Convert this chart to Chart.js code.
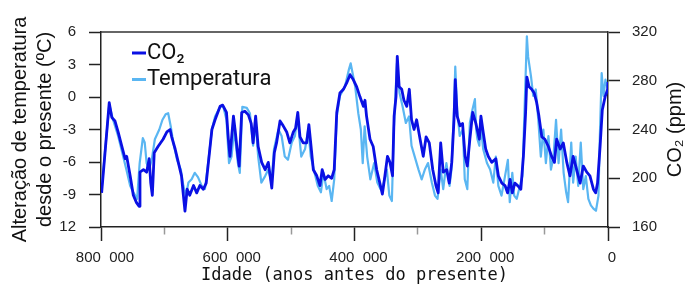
<!DOCTYPE html>
<html>
<head>
<meta charset="utf-8">
<script src="https://cdn.jsdelivr.net/npm/chart.js@4.4.1/dist/chart.umd.min.js"></script>
<style>
  html, body { margin: 0; padding: 0; background: #fff; }
  #wrap { width: 691px; height: 291px; }
</style>
</head>
<body>
<div id="wrap"><canvas id="iceChart" width="691" height="291"></canvas></div>
<script>
// CO2 record: age in thousand years before present, concentration in ppm
const co2Age = [799, 787, 783, 778, 773, 767, 762, 759.5, 754, 749, 744, 740, 738.5, 733, 728, 724, 721.5, 719, 716, 710,
  702, 696, 691, 688.5, 683, 678, 673, 670, 667.5, 664, 660, 654, 649, 644, 638.5, 634, 630.5, 625, 620, 612,
  608, 602, 599, 596.5, 591, 588.5, 584, 582, 578, 573, 567.5, 563, 560, 556, 552, 546.5, 541, 536, 530.5, 526.5,
  523, 517.5, 512.5, 507, 502, 496.5, 493, 489.5, 486, 481, 475.5, 472, 468.5, 465, 459.5, 454.5, 451, 446.5, 441.5, 436,
  432, 428, 423, 417.5, 412.5, 407, 402, 396.5, 391.5, 386, 383.5, 381, 375.5, 370.5, 365, 360, 356, 352, 348, 344,
  340, 337.5, 334.5, 332.5, 329.5, 325.5, 322, 317.5, 313.5, 310, 306, 302, 296.5, 291.5, 287, 282, 276.5, 271.5, 268, 264,
  260, 254.5, 250.5, 246.5, 243, 241, 238, 233.5, 229.5, 225.5, 222, 218, 213.5, 208.5, 203, 200.5, 197, 193, 189, 183.5,
  177, 173, 167.5, 162.5, 158.5, 154.5, 151, 147, 142.5, 137.5, 133.5, 130, 128, 124.5, 120.5, 116.5, 112.5, 109, 104.5, 99.5,
  94, 89, 84.5, 81, 75.5, 70.5, 65, 60, 55, 49.5, 44, 39, 33.5, 28.5, 23, 19.5, 16.5, 12.5, 9, 4.5, 0.5, 0];
const co2Ppm = [188, 262, 250, 247, 238, 226, 216, 218, 202, 186, 180, 177, 205, 207, 205, 216, 196, 186, 221, 226,
  232, 238, 240, 234, 224, 213, 202, 186, 173, 191, 186, 194, 188, 194, 191, 196, 213, 240, 248, 259,
  260, 254, 232, 218, 251, 240, 218, 210, 254, 255, 252, 245, 229, 251, 226, 213, 207, 213, 192, 221,
  229, 247, 243, 238, 229, 238, 241, 254, 234, 229, 229, 244, 226, 207, 202, 194, 207, 199, 202, 200,
  207, 254, 270, 273, 278, 285, 281, 275, 267, 259, 264, 251, 232, 226, 207, 196, 187, 202, 218, 213,
  202, 251, 267, 300, 275, 273, 264, 259, 273, 248, 240, 248, 232, 218, 234, 229, 207, 194, 188, 229,
  205, 207, 196, 213, 248, 281, 251, 243, 245, 218, 210, 232, 254, 245, 232, 251, 238, 224, 218, 213,
  216, 202, 196, 194, 188, 199, 188, 196, 194, 191, 218, 254, 283, 275, 273, 270, 262, 251, 234, 232,
  226, 218, 213, 232, 224, 229, 213, 202, 218, 207, 196, 210, 205, 202, 191, 188, 196, 226, 256, 267, 273, 279];

// Temperature change relative to present (degrees C), same age units
const tempAge = [799, 787, 781, 773, 765, 760, 754, 749, 743, 739, 734, 731, 728, 724, 720, 715, 708, 703, 698, 694,
  690, 686, 680, 674, 670, 666, 662, 657, 652, 647, 641, 636, 631, 625, 620, 612, 607, 602, 598, 594,
  590, 584, 581, 577, 570, 565, 560, 556, 552, 547, 541, 536, 531, 527, 520, 515, 510, 505, 499, 494,
  490, 484, 478, 473, 469, 463, 458, 453, 449, 444, 440, 436, 432, 428, 423, 415, 409, 406, 399, 394,
  390, 387, 384, 380, 375, 369, 364, 359, 355, 349, 345, 341, 338, 333, 329, 324, 319, 314, 310, 305,
  299, 294, 289, 284, 278, 273, 269, 264, 260, 255, 250, 247, 243, 241, 238, 234, 229, 226, 222, 218,
  214, 210, 208, 206, 203, 201.5, 197, 191, 186, 181, 177, 173, 168, 162.5, 158, 155, 151, 148, 144, 139,
  135, 131, 128, 126, 121.5, 118, 114, 110, 106, 102, 98, 94, 90, 86, 82, 78, 74, 70, 66, 63,
  58, 55, 51, 47, 43, 39, 35, 31, 27, 23, 19, 15, 13, 10, 7, 4, 0];
const tempAnom = [-8.5, -0.7, -2.1, -3.6, -5.5, -6.7, -8.2, -8.8, -9.4, -6.1, -3.8, -4.2, -6.1, -6.7, -5.8, -3.9, -3.0, -2.1, -1.6, -1.5,
  -2.7, -4.2, -5.8, -6.7, -8.2, -9.1, -7.9, -7.6, -7.0, -7.4, -8.2, -8.5, -6.1, -3.0, -1.8, -0.9, -0.9, -2.1, -6.1, -5.5,
  -3.0, -6.1, -7.0, -0.9, -1.0, -1.5, -4.5, -2.4, -5.5, -7.9, -7.3, -6.7, -7.9, -4.8, -3.0, -3.6, -5.5, -5.8, -4.2, -3.6,
  -1.8, -5.5, -4.8, -3.0, -5.5, -7.0, -8.2, -8.8, -7.0, -8.5, -8.2, -9.6, -7.6, -1.8, 0.1, 1.0, 2.5, 3.1, 1.0, -1.5,
  -3.0, -6.1, -2.7, -5.5, -7.6, -6.1, -7.9, -8.5, -8.2, -6.7, -9.1, -9.6, -3.0, 3.1, 0.4, -0.9, -2.4, -1.8, -4.5, -5.5,
  -6.7, -7.6, -6.7, -6.1, -7.9, -9.1, -9.4, -6.7, -8.5, -6.1, -8.2, -6.7, -1.2, 2.8, -1.2, -3.6, -3.0, -7.6, -8.5, -2.4,
  -1.2, -0.2, -3.0, -3.9, -4.5, -2.1, -4.8, -6.1, -6.7, -7.9, -5.5, -8.2, -9.1, -7.3, -5.8, -9.7, -7.0, -9.1, -9.4, -8.2,
  -7.3, 0.1, 5.6, 3.7, 1.9, 0.1, 0.7, -2.1, -5.5, -3.0, -6.1, -3.6, -6.7, -5.5, -2.1, -6.1, -3.0, -7.0, -8.8, -9.7,
  -4.2, -7.9, -5.5, -8.2, -4.2, -8.5, -7.3, -9.4, -10.0, -10.3, -10.5, -9.1, -3.9, 2.2, 0.1, 1.6, 0.7];

// tick labels as printed on the original figure
const xTickLabels = ['0', '200  000', '400  000', '600  000', '800  000'];
const tempTickLabels = ['12', '-9', '-6', '-3', '0', '3', '6'];
const co2TickLabels = ['160', '200', '240', '280', '320'];

const tickFont = { family: 'Liberation Sans, Arial, sans-serif', size: 15 };
const inkColor = '#222';

// draw the top edge of the plot box
const frameTop = {
    id: 'frameTop',
    afterDraw(chart) {
        const { ctx, chartArea } = chart;
        ctx.save();
        ctx.strokeStyle = '#333';
        ctx.lineWidth = 1.5;
        ctx.beginPath();
        ctx.moveTo(chartArea.left, chartArea.top);
        ctx.lineTo(chartArea.right, chartArea.top);
        ctx.stroke();
        ctx.restore();
    }
};

// small legend in the upper-left corner
const cornerLegend = {
    id: 'cornerLegend',
    afterDraw(chart) {
        const { ctx, chartArea } = chart;
        ctx.save();
        ctx.font = '22px Roboto, sans-serif';
        ctx.textBaseline = 'middle';
        chart.data.datasets.forEach((ds, i) => {
            const x = chartArea.left + 31;
            const y = chartArea.top + 21 + i * 26.5;
            ctx.strokeStyle = ds.borderColor;
            ctx.lineWidth = 3;
            ctx.beginPath();
            ctx.moveTo(x, y);
            ctx.lineTo(x + 14, y);
            ctx.stroke();
            ctx.fillStyle = '#111';
            ctx.fillText(ds.label, x + 15, y);
        });
        ctx.restore();
    }
};

// right axis title reads bottom-to-top like the left one
const rightTitle = {
    id: 'rightTitle',
    afterDraw(chart) {
        const { ctx, chartArea } = chart;
        ctx.save();
        ctx.translate(675, (chartArea.top + chartArea.bottom) / 2);
        ctx.rotate(-Math.PI / 2);
        ctx.font = '20px Liberation Sans, Arial, sans-serif';
        ctx.fillStyle = '#111';
        ctx.textAlign = 'center';
        ctx.textBaseline = 'middle';
        ctx.fillText('CO₂ (ppm)', 0, 0);
        ctx.restore();
    }
};

new Chart(document.getElementById('iceChart'), {
    type: 'line',
    data: {
        datasets: [{
            label: 'CO₂',
            data: co2Age.map((a, i) => ({ x: a, y: co2Ppm[i] })),
            yAxisID: 'yC',
            borderColor: '#0a10e4',
            borderWidth: 2.8,
            pointRadius: 0,
            tension: 0,
            borderJoinStyle: 'round'
        }, {
            label: 'Temperatura',
            data: tempAge.map((a, i) => ({ x: a, y: tempAnom[i] })),
            yAxisID: 'yT',
            borderColor: '#5ab6f2',
            borderWidth: 2.2,
            pointRadius: 0,
            tension: 0,
            borderJoinStyle: 'round'
        }]
    },
    options: {
        responsive: false,
        animation: false,
        devicePixelRatio: 1,
        layout: { padding: { top: 32, left: 0, right: 0, bottom: 0 } },
        plugins: {
            legend: { display: false },
            tooltip: { enabled: false }
        },
        scales: {
            x: {
                type: 'linear',
                position: 'bottom',
                reverse: true,
                min: 0,
                max: 800,
                afterFit: (scale) => { scale.height = 64; },
                border: { color: inkColor, width: 1.5 },
                grid: {
                    drawOnChartArea: false,
                    tickLength: 14,
                    tickColor: (c) => (c.tick && c.tick.value % 200 !== 0) ? '#999' : inkColor,
                    tickWidth: 1.5,
                    tickBorderDash: (c) => (c.tick && c.tick.value % 200 !== 0) ? [7, 40] : []
                },
                ticks: {
                    stepSize: 100,
                    autoSkip: false,
                    maxRotation: 0,
                    padding: 8,
                    labelOffset: 4,
                    color: inkColor,
                    font: tickFont,
                    callback: (v) => v % 200 === 0 ? xTickLabels[v / 200] : ''
                },
                title: {
                    display: true,
                    text: 'Idade (anos antes do presente)',
                    color: '#111',
                    font: { family: 'DejaVu Sans Mono, monospace', size: 17 },
                    padding: { top: 0, bottom: 5 }
                }
            },
            yT: {
                position: 'left',
                min: -12,
                max: 6,
                afterFit: (scale) => { scale.width = 101; },
                border: { color: inkColor, width: 1.5 },
                grid: { drawOnChartArea: false, tickLength: 12, tickColor: inkColor, tickWidth: 1.5 },
                ticks: {
                    stepSize: 3,
                    padding: 13,
                    color: inkColor,
                    font: tickFont,
                    callback: (v) => tempTickLabels[(v + 12) / 3]
                },
                title: {
                    display: true,
                    text: ['Alteração de temperatura', 'desde o presente (ºC)'],
                    color: '#111',
                    font: { family: 'Liberation Sans, Arial, sans-serif', size: 20, lineHeight: 1.25 },
                    padding: { top: 7.5, bottom: 0 }
                }
            },
            yC: {
                position: 'right',
                min: 160,
                max: 320,
                afterFit: (scale) => { scale.width = 83; },
                border: { color: inkColor, width: 1.5 },
                grid: { drawOnChartArea: false, tickLength: 12, tickColor: inkColor, tickWidth: 1.5 },
                ticks: {
                    stepSize: 40,
                    padding: 12,
                    color: inkColor,
                    font: tickFont,
                    callback: (v) => co2TickLabels[(v - 160) / 40]
                }
            }
        }
    },
    plugins: [frameTop, cornerLegend, rightTitle]
});
</script>
</body>
</html>
